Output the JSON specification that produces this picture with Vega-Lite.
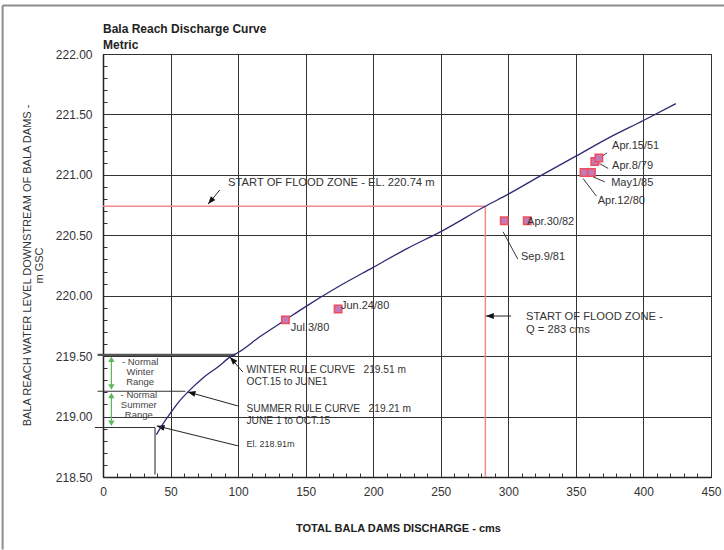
{
  "$schema": "https://vega.github.io/schema/vega-lite/v6.json",
  "width": 608,
  "height": 423,
  "autosize": "none",
  "padding": {"left": 103, "top": 54, "right": 13, "bottom": 73},
  "background": "white",
  "config": {"font": "Liberation Sans", "view": {"stroke": "#222", "strokeWidth": 1}},
  "title": {
    "text": ["Bala Reach Discharge Curve", "Metric"],
    "anchor": "start",
    "frame": "group",
    "fontSize": 12,
    "fontWeight": "bold",
    "color": "#222",
    "offset": 4,
    "dy": 52,
    "lineHeight": 16
  },
  "datasets": {
    "frame": [
      {"x": -74.3, "x2": 460, "y": 222.402, "y2": 222.402},
      {"x": -74.3, "x2": -74.3, "y": 222.402, "y2": 217.9}
    ],
    "flood": [
      {"x": 0, "x2": 283, "y": 220.74, "y2": 220.74},
      {"x": 283, "x2": 283, "y": 218.5, "y2": 220.74}
    ],
    "winterRule": [
      {"x": -4, "x2": 98, "y": 219.51, "y2": 219.51}
    ],
    "otherRules": [
      {"x": -4, "x2": 61, "y": 219.21, "y2": 219.21},
      {"x": -6, "x2": 38.5, "y": 218.91, "y2": 218.91},
      {"x": 38.5, "x2": 38.5, "y": 218.91, "y2": 218.52}
    ],
    "greenLines": [
      {"x": 6.2, "x2": 6.2, "y": 219.47, "y2": 219.25},
      {"x": 6.2, "x2": 6.2, "y": 219.17, "y2": 218.95}
    ],
    "greenUp": [
      {"x": 6.2, "y": 219.475},
      {"x": 6.2, "y": 219.175}
    ],
    "greenDown": [
      {"x": 6.2, "y": 219.245},
      {"x": 6.2, "y": 218.945}
    ],
    "arrows": [
      {"name": "winter", "x": 93.9, "y": 219.493, "x2": 103.5, "y2": 219.369},
      {"name": "summer", "x": 62.7, "y": 219.204, "x2": 99.8, "y2": 219.088},
      {"name": "el", "x": 39.8, "y": 218.923, "x2": 99.8, "y2": 218.758},
      {"name": "floodh", "x": 77.8, "y": 220.758, "x2": 86.4, "y2": 220.874},
      {"name": "floodv", "x": 283.5, "y": 219.832, "x2": 302, "y2": 219.832}
    ],
    "curve": [
      {"x": 39.5, "y": 218.85},
      {"x": 45, "y": 218.95},
      {"x": 50, "y": 219.03},
      {"x": 56, "y": 219.12},
      {"x": 62.5, "y": 219.2},
      {"x": 74, "y": 219.32},
      {"x": 85, "y": 219.41},
      {"x": 95, "y": 219.5},
      {"x": 100, "y": 219.53},
      {"x": 116, "y": 219.66},
      {"x": 135, "y": 219.8},
      {"x": 150, "y": 219.91},
      {"x": 175, "y": 220.08},
      {"x": 200, "y": 220.235},
      {"x": 225, "y": 220.39},
      {"x": 250, "y": 220.53},
      {"x": 283, "y": 220.74},
      {"x": 300, "y": 220.84},
      {"x": 325, "y": 221.0},
      {"x": 350, "y": 221.155},
      {"x": 375, "y": 221.31},
      {"x": 400, "y": 221.45},
      {"x": 424, "y": 221.59}
    ],
    "obs": [
      {"date": "Jul.3/80", "x": 135, "y": 219.8},
      {"date": "Jun.24/80", "x": 174, "y": 219.89},
      {"date": "Sep.9/81", "x": 297, "y": 220.62},
      {"date": "Apr.30/82", "x": 314, "y": 220.62},
      {"date": "Apr.12/80", "x": 356, "y": 221.02},
      {"date": "May1/85", "x": 361.5, "y": 221.02},
      {"date": "Apr.8/79", "x": 364, "y": 221.11},
      {"date": "Apr.15/51", "x": 367, "y": 221.14}
    ],
    "obsLeaders": [
      {"x": 366.96, "y": 221.136, "x2": 373.1, "y2": 221.182},
      {"x": 367.4, "y": 221.094, "x2": 373.9, "y2": 221.053},
      {"x": 362.7, "y": 220.983, "x2": 371.4, "y2": 220.942},
      {"x": 355.3, "y": 220.97, "x2": 365.2, "y2": 220.824},
      {"x": 296.1, "y": 220.529, "x2": 307.0, "y2": 220.303}
    ],
    "obsLabels": [
      {"t": "Apr.15/51", "x": 376.8, "y": 221.237},
      {"t": "Apr.8/79", "x": 376.8, "y": 221.072},
      {"t": "May1/85", "x": 376.1, "y": 220.929},
      {"t": "Apr.12/80", "x": 366.2, "y": 220.785},
      {"t": "Apr.30/82", "x": 313.9, "y": 220.607},
      {"t": "Sep.9/81", "x": 309.4, "y": 220.322},
      {"t": "Jun.24/80", "x": 176.1, "y": 219.915},
      {"t": "Jul.3/80", "x": 139.0, "y": 219.736}
    ],
    "floodNotes": [
      {"t": "START OF FLOOD ZONE - EL. 220.74 m", "x": 92.6, "y": 220.929},
      {"t": "START OF FLOOD ZONE -\nQ = 283 cms", "x": 313.1, "y": 219.821}
    ],
    "ruleNotes": [
      {"t": "WINTER RULE CURVE\u00a0\u00a0\u00a0219.51 m\nOCT.15 to JUNE1", "x": 106.2, "y": 219.385},
      {"t": "SUMMER RULE CURVE\u00a0\u00a0\u00a0219.21 m\nJUNE 1 to OCT.15", "x": 106.2, "y": 219.065}
    ],
    "smallNote": [
      {"t": "El. 218.91m", "x": 106.2, "y": 218.771}
    ],
    "ranges": [
      {"t": "- Normal\nWinter\nRange", "x": 27.5, "y": 219.454},
      {"t": "- Normal\nSummer\nRange", "x": 26.5, "y": 219.181}
    ]
  },
  "encoding": {
    "x": {
      "field": "x",
      "type": "quantitative",
      "scale": {"domain": [0, 450], "nice": false, "zero": false},
      "axis": {
        "title": "TOTAL BALA DAMS DISCHARGE - cms",
        "titleFontSize": 11,
        "titleFontWeight": "bold",
        "titleColor": "#222",
        "titleX": 295,
        "titleY": 51,
        "titleAlign": "center",
        "titleBaseline": "middle",
        "values": [0,10,20,30,40,50,60,70,80,90,100,110,120,130,140,150,160,170,180,190,200,210,220,230,240,250,260,270,280,290,300,310,320,330,340,350,360,370,380,390,400,410,420,430,440,450],
        "labelExpr": "datum.value % 50 === 0 ? datum.label : ''",
        "labelOverlap": false,
        "labelFlush": false,
        "labelFontSize": 12,
        "labelColor": "#333",
        "labelPadding": 13,
        "tickSize": -4,
        "tickColor": "#333",
        "tickWidth": 1,
        "grid": true,
        "gridColor": "#333",
        "gridWidth": 1,
        "gridOpacity": {"condition": {"test": "datum.value % 50 === 0", "value": 1}, "value": 0},
        "domainColor": "#222",
        "domainWidth": 1.5
      }
    },
    "y": {
      "field": "y",
      "type": "quantitative",
      "scale": {"domain": [218.5, 222], "nice": false, "zero": false},
      "axis": {
        "title": ["BALA REACH WATER LEVEL DOWNSTREAM OF BALA DAMS -", "m GSC"],
        "titleFontSize": 11,
        "titleFontWeight": "normal",
        "titleColor": "#333",
        "titleX": -82,
        "titleY": 211,
        "titleAngle": 270,
        "titleAlign": "center",
        "titleBaseline": "top",
        "titleLineHeight": 12,
        "values": [218.5,218.6,218.7,218.8,218.9,219.0,219.1,219.2,219.3,219.4,219.5,219.6,219.7,219.8,219.9,220.0,220.1,220.2,220.3,220.4,220.5,220.6,220.7,220.8,220.9,221.0,221.1,221.2,221.3,221.4,221.5,221.6,221.7,221.8,221.9,222.0],
        "labelExpr": "abs(datum.value*2-round(datum.value*2)) < 0.001 ? format(datum.value, '.2f') : ''",
        "labelOverlap": false,
        "labelFlush": false,
        "labelFontSize": 12,
        "labelColor": "#333",
        "labelPadding": 15,
        "tickSize": -4,
        "tickColor": "#333",
        "tickWidth": 1,
        "grid": true,
        "gridColor": "#333",
        "gridWidth": 1,
        "gridOpacity": {"condition": {"test": "abs(datum.value*2-round(datum.value*2)) < 0.001", "value": 1}, "value": 0},
        "domainColor": "#222",
        "domainWidth": 1.5
      }
    }
  },
  "layer": [
    {
      "data": {"name": "frame"},
      "mark": {"type": "rule", "color": "#8c8c8c", "strokeWidth": 2},
      "encoding": {"x2": {"field": "x2"}, "y2": {"field": "y2"}}
    },
    {
      "data": {"name": "flood"},
      "mark": {"type": "rule", "color": "#f28a8a", "strokeWidth": 1.5},
      "encoding": {"x2": {"field": "x2"}, "y2": {"field": "y2"}}
    },
    {
      "data": {"name": "winterRule"},
      "mark": {"type": "rule", "color": "#555", "strokeWidth": 2.2},
      "encoding": {"x2": {"field": "x2"}, "y2": {"field": "y2"}}
    },
    {
      "data": {"name": "otherRules"},
      "mark": {"type": "rule", "color": "#333", "strokeWidth": 1.1},
      "encoding": {"x2": {"field": "x2"}, "y2": {"field": "y2"}}
    },
    {
      "data": {"name": "greenLines"},
      "mark": {"type": "rule", "color": "#5cb85c", "strokeWidth": 1.2},
      "encoding": {"x2": {"field": "x2"}, "y2": {"field": "y2"}}
    },
    {
      "data": {"name": "greenUp"},
      "mark": {"type": "point", "shape": "triangle-up", "filled": true, "color": "#5cb85c", "size": 40, "opacity": 1}
    },
    {
      "data": {"name": "greenDown"},
      "mark": {"type": "point", "shape": "triangle-down", "filled": true, "color": "#5cb85c", "size": 40, "opacity": 1}
    },
    {
      "data": {"name": "arrows"},
      "mark": {"type": "rule", "color": "#222", "strokeWidth": 1},
      "encoding": {"x2": {"field": "x2"}, "y2": {"field": "y2"}}
    },
    {
      "data": {"name": "arrows"},
      "transform": [{"filter": "datum.name === 'winter'"}],
      "mark": {"type": "point", "shape": "M0,0L0.38,1L-0.38,1Z", "filled": true, "color": "#111", "size": 240, "opacity": 1, "angle": 317}
    },
    {
      "data": {"name": "arrows"},
      "transform": [{"filter": "datum.name === 'summer' || datum.name === 'el'"}],
      "mark": {"type": "point", "shape": "M0,0L0.38,1L-0.38,1Z", "filled": true, "color": "#111", "size": 240, "opacity": 1, "angle": 285}
    },
    {
      "data": {"name": "arrows"},
      "transform": [{"filter": "datum.name === 'floodh'"}],
      "mark": {"type": "point", "shape": "M0,0L0.38,1L-0.38,1Z", "filled": true, "color": "#111", "size": 240, "opacity": 1, "angle": 220}
    },
    {
      "data": {"name": "arrows"},
      "transform": [{"filter": "datum.name === 'floodv'"}],
      "mark": {"type": "point", "shape": "M0,0L0.38,1L-0.38,1Z", "filled": true, "color": "#111", "size": 240, "opacity": 1, "angle": 270}
    },
    {
      "data": {"name": "curve"},
      "mark": {"type": "line", "color": "#2a2a72", "strokeWidth": 1.3, "interpolate": "monotone"}
    },
    {
      "data": {"name": "obsLeaders"},
      "mark": {"type": "rule", "color": "#222", "strokeWidth": 0.9},
      "encoding": {"x2": {"field": "x2"}, "y2": {"field": "y2"}}
    },
    {
      "data": {"name": "obs"},
      "mark": {"type": "point", "shape": "square", "filled": true, "fill": "#c47ab8", "stroke": "#ee4d5a", "strokeWidth": 1.5, "size": 55, "opacity": 1}
    },
    {
      "data": {"name": "obsLabels"},
      "mark": {"type": "text", "align": "left", "baseline": "middle", "fontSize": 11, "color": "#333"},
      "encoding": {"text": {"field": "t"}}
    },
    {
      "data": {"name": "floodNotes"},
      "mark": {"type": "text", "align": "left", "baseline": "middle", "fontSize": 11.2, "color": "#333", "lineBreak": "\n", "lineHeight": 12.7},
      "encoding": {"text": {"field": "t"}}
    },
    {
      "data": {"name": "ruleNotes"},
      "mark": {"type": "text", "align": "left", "baseline": "middle", "fontSize": 10.2, "color": "#333", "lineBreak": "\n", "lineHeight": 12},
      "encoding": {"text": {"field": "t"}}
    },
    {
      "data": {"name": "smallNote"},
      "mark": {"type": "text", "align": "left", "baseline": "middle", "fontSize": 9, "color": "#333"},
      "encoding": {"text": {"field": "t"}}
    },
    {
      "data": {"name": "ranges"},
      "mark": {"type": "text", "align": "center", "baseline": "middle", "fontSize": 9.5, "color": "#444", "lineBreak": "\n", "lineHeight": 10.4},
      "encoding": {"text": {"field": "t"}}
    }
  ]
}
